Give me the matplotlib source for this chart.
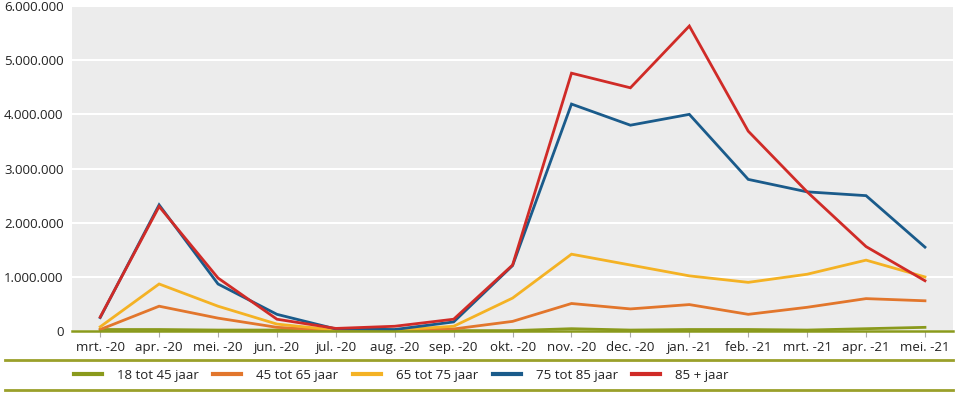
import matplotlib
matplotlib.use("Agg")
import matplotlib.pyplot as plt
from matplotlib.lines import Line2D
from matplotlib.ticker import FuncFormatter, MultipleLocator

plt.rcParams['font.family'] = ['Open Sans', 'DejaVu Sans']

months = ["mrt. -20", "apr. -20", "mei. -20", "jun. -20", "jul. -20", "aug. -20",
          "sep. -20", "okt. -20", "nov. -20", "dec. -20", "jan. -21", "feb. -21",
          "mrt. -21", "apr. -21", "mei. -21"]

s18_45 = [30000, 30000, 20000, 20000, 10000, 10000, 10000, 10000, 45000, 20000,
          30000, 30000, 20000, 45000, 70000]
s45_65 = [30000, 460000, 240000, 70000, 10000, 10000, 40000, 180000, 510000, 410000,
          490000, 310000, 440000, 600000, 560000]
s65_75 = [80000, 870000, 460000, 130000, 20000, 20000, 90000, 610000, 1420000, 1220000,
          1020000, 900000, 1050000, 1310000, 1000000]
s75_85 = [250000, 2330000, 870000, 310000, 40000, 30000, 170000, 1210000, 4190000, 3800000,
          4000000, 2800000, 2570000, 2500000, 1550000]
s85p = [260000, 2300000, 980000, 220000, 50000, 90000, 220000, 1220000, 4760000, 4490000,
        5630000, 3690000, 2570000, 1560000, 930000]

labels = ["18 tot 45 jaar", "45 tot 65 jaar", "65 tot 75 jaar", "75 tot 85 jaar", "85 + jaar"]
colors = ["#8a9a1c", "#e2762c", "#f4b224", "#1a5b8b", "#d02b27"]
series = [s18_45, s45_65, s65_75, s75_85, s85p]

fig = plt.figure(figsize=(9.59, 3.98), dpi=100)
ax = fig.add_axes([0.075, 0.168, 0.919, 0.817])
ax.set_facecolor("#ececec")

x = list(range(len(months)))
handles = []
for s, c, l in zip(series, colors, labels):
    h, = ax.plot(x, s, color=c, lw=2.0, label=l, solid_joinstyle='miter', zorder=3)
    handles.append(h)

ax.set_xlim(-0.48, len(months) - 0.52)
ax.set_ylim(0, 6000000)
ax.yaxis.set_major_locator(MultipleLocator(1000000))
ax.yaxis.set_major_formatter(FuncFormatter(lambda v, p: f"{int(v):,}".replace(",", ".")))
ax.grid(axis='y', color='white', lw=1.5, zorder=1)
ax.set_axisbelow(True)
ax.set_xticks(x)
ax.set_xticklabels(months)

for sp in ['top', 'right', 'left']:
    ax.spines[sp].set_visible(False)
ax.spines['bottom'].set_color("#8a9a1c")
ax.spines['bottom'].set_linewidth(1.8)
ax.spines['bottom'].set_zorder(4)

ax.tick_params(axis='y', length=0, pad=6, labelsize=9.5, labelcolor='#222222')
ax.tick_params(axis='x', length=4, width=0.8, color='#aaaaaa', pad=3,
               labelsize=9.5, labelcolor='#222222')

for yy in [1 - 360 / 398, 1 - 390 / 398]:
    fig.add_artist(Line2D([0.005, 0.994], [yy, yy], transform=fig.transFigure,
                          color="#9aa02a", lw=2))

leg = fig.legend(handles=handles, loc='center left', bbox_to_anchor=(0.077, 1 - 375 / 398),
                 ncol=5, frameon=False, fontsize=9.5, handlelength=2.12,
                 handletextpad=1.14, columnspacing=1.1, borderaxespad=0, borderpad=0)
for t in leg.get_texts():
    t.set_color('#222222')
for lh in leg.get_lines():
    lh.set_linewidth(3)

fig.savefig("out.png", dpi=100)
